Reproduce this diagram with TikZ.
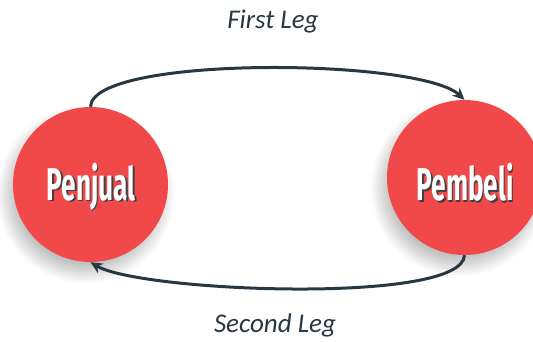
\documentclass[tikz,border=0pt]{standalone}
\usepackage{fontspec}
\setmainfont{Carlito}
\newfontfamily\labfont{Fira Sans}
\usetikzlibrary{arrows.meta,shadows.blur}
\definecolor{nodered}{RGB}{241,72,74}
\definecolor{linecol}{RGB}{40,56,66}
\tikzset{
  party/.style={circle, fill=nodered, minimum size=155pt, inner sep=0pt,
    blur shadow={shadow xshift=-5pt, shadow yshift=-10pt, shadow blur radius=12pt, shadow blur steps=25, shadow opacity=28}},
  partytext/.style={text=white, font=\labfont\bfseries\fontsize{46}{46}\selectfont, inner sep=0pt},
  partyshade/.style={text=black!75, font=\labfont\bfseries\fontsize{46}{46}\selectfont, inner sep=0pt},
  flow/.style={draw=linecol, line width=3pt, -{Stealth[length=12pt,width=11pt,inset=4pt]}},
  legtext/.style={text=linecol, font=\itshape\fontsize{27}{27}\selectfont}
}
\begin{document}
\begin{tikzpicture}[x=1pt,y=-1pt]
\useasboundingbox (0,0) rectangle (533,342);
\clip (0,0) rectangle (533,342);
\node[party] (pj) at (90.5,184.5) {};
\node[party] (pb) at (464.5,177.5) {};
\node[partyshade] (pjs) at (92.5,188) {\scalebox{0.57}[1]{Penjual}};
\node[partytext] (pjt) at (91,186.5) {\scalebox{0.57}[1]{Penjual}};
\node[partyshade] (pbs) at (466.5,184) {\scalebox{0.57}[1]{Pembeli}};
\node[partytext] (pbt) at (465,182.5) {\scalebox{0.57}[1]{Pembeli}};
\draw[flow] (pj.north) .. controls (92,55) and (420,58) .. (pb.north);
\draw[flow] (pb.south) .. controls (463,305) and (140,292) .. (pj.south);
\node[legtext] (first) at (273,22) {First Leg};
\node[legtext] (second) at (275,325) {Second Leg};
\end{tikzpicture}
\end{document}
